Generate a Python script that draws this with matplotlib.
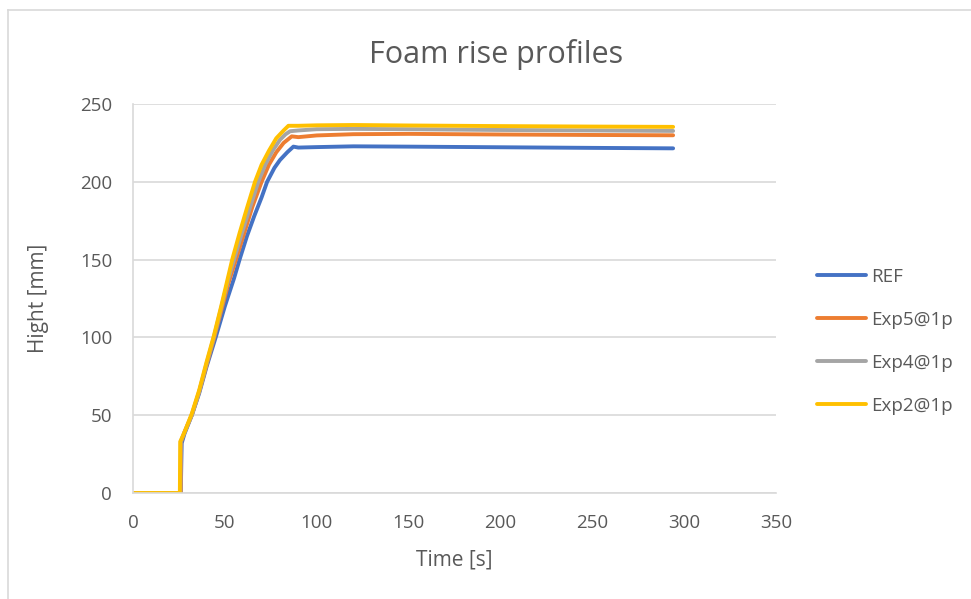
import matplotlib
matplotlib.use("Agg")
import matplotlib.pyplot as plt
from matplotlib.lines import Line2D

plt.rcParams["font.family"] = ["Open Sans", "DejaVu Sans"]

# Foam height over time for each formulation
ref_t = [0, 26, 26.5, 28, 32, 36, 40, 45, 50, 55, 58, 62, 66, 70, 73, 77, 80, 84, 87.3, 90, 100, 120, 150, 200, 250, 294]
ref_h = [0, 0, 32, 38, 50, 64, 81, 100, 120, 138, 150, 165, 178, 190, 200, 209, 214, 219, 222.6, 222.0, 222.3, 222.8, 222.6, 222.2, 221.8, 221.5]

exp5_t = [0, 26, 26.2, 28, 32, 36, 40, 44, 48, 52, 56, 60, 65, 70, 74, 78, 82, 86.4, 90, 100, 120, 150, 200, 250, 294]
exp5_h = [0, 0, 33, 39, 50, 65, 82, 99, 117, 135, 150, 165, 184, 200, 211, 219, 225, 229.2, 228.7, 229.8, 230.6, 230.8, 230.4, 230.1, 229.9]

exp4_t = [0, 25.8, 26, 28, 32, 36, 40, 44, 48, 52, 55, 59, 63, 68.2, 72, 76, 80, 83, 85.5, 90, 100, 120, 150, 200, 250, 294]
exp4_h = [0, 0, 33, 39, 50, 65, 83, 100, 119, 138, 150, 166, 181, 200, 211, 220, 227, 230.5, 232.5, 233.0, 233.8, 234.0, 233.8, 233.3, 233.0, 232.7]

exp2_t = [0, 25.5, 25.7, 28, 32, 36, 40, 44, 48, 52, 54, 58, 62, 66.4, 70, 74, 78, 82, 84.6, 90, 100, 120, 150, 200, 250, 294]
exp2_h = [0, 0, 33, 39, 51, 66, 84, 101, 120, 140, 150, 167, 183, 200, 211, 220, 228, 233, 236.0, 236.0, 236.3, 236.5, 236.2, 235.8, 235.5, 235.3]

series_names = ["REF", "Exp5@1p", "Exp4@1p", "Exp2@1p"]
series_colors = ["#4472C4", "#ED7D31", "#A5A5A5", "#FFC000"]

x_ticks = [0, 50, 100, 150, 200, 250, 300, 350]
y_ticks = [0, 50, 100, 150, 200, 250]

text_color = "#595959"
grid_color = "#D9D9D9"

fig = plt.figure(figsize=(9.71, 5.99), dpi=100)
ax = fig.add_axes([133 / 971, 1 - 493 / 599, 643 / 971, 389 / 599])

data = [(ref_t, ref_h), (exp5_t, exp5_h), (exp4_t, exp4_h), (exp2_t, exp2_h)]
for (t, h), name, color in zip(data, series_names, series_colors):
    ax.plot(t, h, color=color, lw=2.8, label=name,
            solid_capstyle="round", solid_joinstyle="round")

ax.set_xlim(0, 350)
ax.set_ylim(0, 250)
ax.set_xticks(x_ticks)
ax.set_yticks(y_ticks)
ax.tick_params(length=0, labelsize=13.5, colors=text_color)
ax.tick_params(axis="x", pad=15)
ax.tick_params(axis="y", pad=15)
ax.grid(axis="y", color=grid_color, lw=1.2)
ax.set_axisbelow(True)
for side in ("top", "right"):
    ax.spines[side].set_visible(False)
ax.spines["left"].set_color(grid_color)
ax.spines["bottom"].set_color(grid_color)
ax.spines["left"].set_linewidth(1.2)
ax.spines["bottom"].set_linewidth(1.2)

ax.set_xlabel("Time [s]", fontsize=15, color=text_color, labelpad=13)
ax.set_ylabel("Hight [mm]", fontsize=15, color=text_color, labelpad=22)
fig.text(496 / 971, 1 - 54 / 599, "Foam rise profiles", fontsize=22,
         color=text_color, ha="center", va="center")

leg = ax.legend(loc="center left", bbox_to_anchor=(667 / 643, 0.39),
                frameon=False, fontsize=13.5, labelcolor=text_color,
                handlelength=2.6, handletextpad=0.3, labelspacing=1.33)

# Chart area border
fig.add_artist(Line2D([8 / 971, 8 / 971], [0, 1 - 10 / 599], color=grid_color, lw=1.2))
fig.add_artist(Line2D([8 / 971, 1], [1 - 10 / 599, 1 - 10 / 599], color=grid_color, lw=1.2))

fig.savefig("out.png", dpi=100)
